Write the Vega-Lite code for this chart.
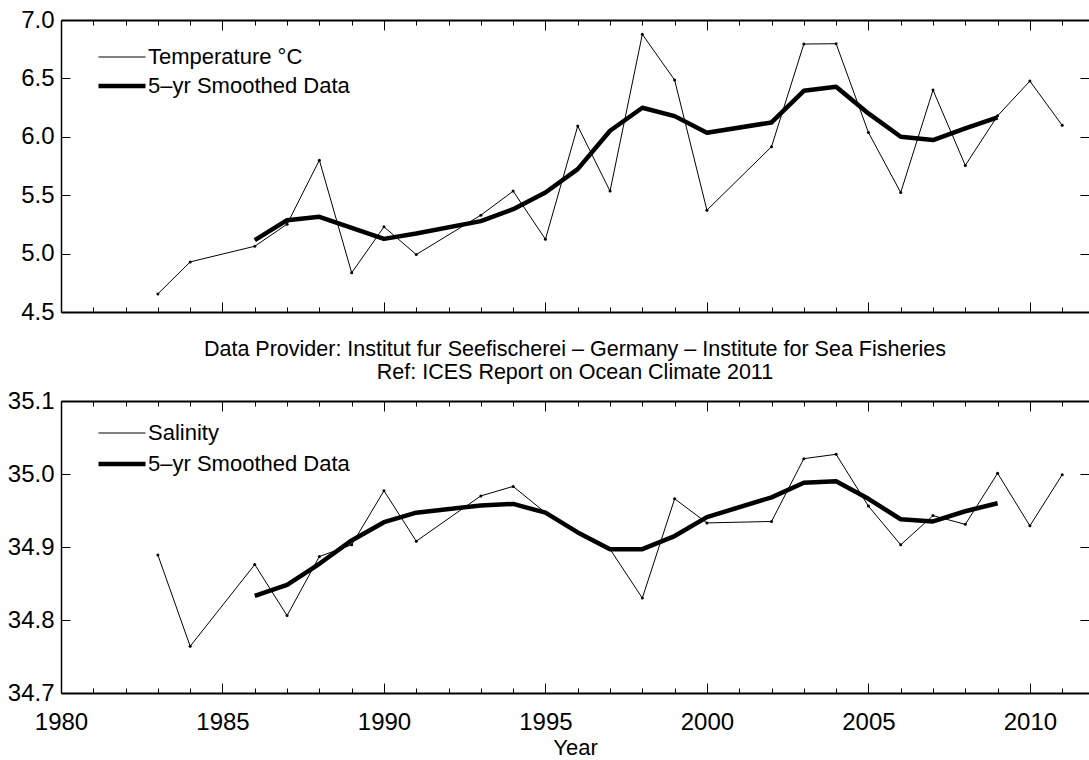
{
  "$schema": "https://vega.github.io/schema/vega-lite/v6.json",
  "padding": {"left": 7, "top": 8, "right": 0, "bottom": 0},
  "background": "white",
  "spacing": 14,
  "config": {
    "font": "Liberation Sans",
    "view": {"stroke": null},
    "axis": {
      "grid": false,
      "domainColor": "black",
      "tickColor": "black",
      "tickWidth": 1,
      "labelColor": "black",
      "labelFont": "Liberation Sans",
      "labelFontSize": 24,
      "labelFlush": false,
      "labelOverlap": false,
      "titleFont": "Liberation Sans",
      "titleFontWeight": "normal",
      "titleColor": "black"
    }
  },
  "datasets": {
    "temp": [
      {"year": 1983, "value": 4.655, "series": "Temperature °C"},
      {"year": 1984, "value": 4.929, "series": "Temperature °C"},
      {"year": 1986, "value": 5.063, "series": "Temperature °C"},
      {"year": 1987, "value": 5.252, "series": "Temperature °C"},
      {"year": 1988, "value": 5.800, "series": "Temperature °C"},
      {"year": 1989, "value": 4.835, "series": "Temperature °C"},
      {"year": 1990, "value": 5.229, "series": "Temperature °C"},
      {"year": 1991, "value": 4.992, "series": "Temperature °C"},
      {"year": 1993, "value": 5.329, "series": "Temperature °C"},
      {"year": 1994, "value": 5.535, "series": "Temperature °C"},
      {"year": 1995, "value": 5.123, "series": "Temperature °C"},
      {"year": 1996, "value": 6.092, "series": "Temperature °C"},
      {"year": 1997, "value": 5.535, "series": "Temperature °C"},
      {"year": 1998, "value": 6.877, "series": "Temperature °C"},
      {"year": 1999, "value": 6.486, "series": "Temperature °C"},
      {"year": 2000, "value": 5.372, "series": "Temperature °C"},
      {"year": 2002, "value": 5.915, "series": "Temperature °C"},
      {"year": 2003, "value": 6.794, "series": "Temperature °C"},
      {"year": 2004, "value": 6.797, "series": "Temperature °C"},
      {"year": 2005, "value": 6.037, "series": "Temperature °C"},
      {"year": 2006, "value": 5.523, "series": "Temperature °C"},
      {"year": 2007, "value": 6.400, "series": "Temperature °C"},
      {"year": 2008, "value": 5.755, "series": "Temperature °C"},
      {"year": 2009, "value": 6.180, "series": "Temperature °C"},
      {"year": 2010, "value": 6.477, "series": "Temperature °C"},
      {"year": 2011, "value": 6.098, "series": "Temperature °C"},
      {"year": 1986, "value": 5.115, "series": "5–yr Smoothed Data"},
      {"year": 1987, "value": 5.286, "series": "5–yr Smoothed Data"},
      {"year": 1988, "value": 5.315, "series": "5–yr Smoothed Data"},
      {"year": 1989, "value": 5.220, "series": "5–yr Smoothed Data"},
      {"year": 1990, "value": 5.126, "series": "5–yr Smoothed Data"},
      {"year": 1991, "value": 5.172, "series": "5–yr Smoothed Data"},
      {"year": 1993, "value": 5.278, "series": "5–yr Smoothed Data"},
      {"year": 1994, "value": 5.380, "series": "5–yr Smoothed Data"},
      {"year": 1995, "value": 5.523, "series": "5–yr Smoothed Data"},
      {"year": 1996, "value": 5.723, "series": "5–yr Smoothed Data"},
      {"year": 1997, "value": 6.052, "series": "5–yr Smoothed Data"},
      {"year": 1998, "value": 6.249, "series": "5–yr Smoothed Data"},
      {"year": 1999, "value": 6.177, "series": "5–yr Smoothed Data"},
      {"year": 2000, "value": 6.034, "series": "5–yr Smoothed Data"},
      {"year": 2002, "value": 6.123, "series": "5–yr Smoothed Data"},
      {"year": 2003, "value": 6.394, "series": "5–yr Smoothed Data"},
      {"year": 2004, "value": 6.429, "series": "5–yr Smoothed Data"},
      {"year": 2005, "value": 6.200, "series": "5–yr Smoothed Data"},
      {"year": 2006, "value": 6.000, "series": "5–yr Smoothed Data"},
      {"year": 2007, "value": 5.972, "series": "5–yr Smoothed Data"},
      {"year": 2008, "value": 6.072, "series": "5–yr Smoothed Data"},
      {"year": 2009, "value": 6.166, "series": "5–yr Smoothed Data"}
    ],
    "sal": [
      {"year": 1983, "value": 34.889, "series": "Salinity"},
      {"year": 1984, "value": 34.764, "series": "Salinity"},
      {"year": 1986, "value": 34.876, "series": "Salinity"},
      {"year": 1987, "value": 34.806, "series": "Salinity"},
      {"year": 1988, "value": 34.887, "series": "Salinity"},
      {"year": 1989, "value": 34.903, "series": "Salinity"},
      {"year": 1990, "value": 34.977, "series": "Salinity"},
      {"year": 1991, "value": 34.908, "series": "Salinity"},
      {"year": 1993, "value": 34.970, "series": "Salinity"},
      {"year": 1994, "value": 34.983, "series": "Salinity"},
      {"year": 1995, "value": 34.947, "series": "Salinity"},
      {"year": 1996, "value": 34.920, "series": "Salinity"},
      {"year": 1997, "value": 34.897, "series": "Salinity"},
      {"year": 1998, "value": 34.830, "series": "Salinity"},
      {"year": 1999, "value": 34.966, "series": "Salinity"},
      {"year": 2000, "value": 34.933, "series": "Salinity"},
      {"year": 2002, "value": 34.935, "series": "Salinity"},
      {"year": 2003, "value": 35.021, "series": "Salinity"},
      {"year": 2004, "value": 35.027, "series": "Salinity"},
      {"year": 2005, "value": 34.956, "series": "Salinity"},
      {"year": 2006, "value": 34.903, "series": "Salinity"},
      {"year": 2007, "value": 34.943, "series": "Salinity"},
      {"year": 2008, "value": 34.931, "series": "Salinity"},
      {"year": 2009, "value": 35.001, "series": "Salinity"},
      {"year": 2010, "value": 34.929, "series": "Salinity"},
      {"year": 2011, "value": 34.999, "series": "Salinity"},
      {"year": 1986, "value": 34.833, "series": "5–yr Smoothed Data"},
      {"year": 1987, "value": 34.848, "series": "5–yr Smoothed Data"},
      {"year": 1988, "value": 34.877, "series": "5–yr Smoothed Data"},
      {"year": 1989, "value": 34.909, "series": "5–yr Smoothed Data"},
      {"year": 1990, "value": 34.934, "series": "5–yr Smoothed Data"},
      {"year": 1991, "value": 34.947, "series": "5–yr Smoothed Data"},
      {"year": 1993, "value": 34.957, "series": "5–yr Smoothed Data"},
      {"year": 1994, "value": 34.959, "series": "5–yr Smoothed Data"},
      {"year": 1995, "value": 34.947, "series": "5–yr Smoothed Data"},
      {"year": 1996, "value": 34.920, "series": "5–yr Smoothed Data"},
      {"year": 1997, "value": 34.897, "series": "5–yr Smoothed Data"},
      {"year": 1998, "value": 34.897, "series": "5–yr Smoothed Data"},
      {"year": 1999, "value": 34.915, "series": "5–yr Smoothed Data"},
      {"year": 2000, "value": 34.941, "series": "5–yr Smoothed Data"},
      {"year": 2002, "value": 34.968, "series": "5–yr Smoothed Data"},
      {"year": 2003, "value": 34.988, "series": "5–yr Smoothed Data"},
      {"year": 2004, "value": 34.990, "series": "5–yr Smoothed Data"},
      {"year": 2005, "value": 34.966, "series": "5–yr Smoothed Data"},
      {"year": 2006, "value": 34.938, "series": "5–yr Smoothed Data"},
      {"year": 2007, "value": 34.935, "series": "5–yr Smoothed Data"},
      {"year": 2008, "value": 34.949, "series": "5–yr Smoothed Data"},
      {"year": 2009, "value": 34.960, "series": "5–yr Smoothed Data"}
    ]
  },
  "vconcat": [
    {
      "width": 1028,
      "height": 292,
      "data": {"name": "temp"},
      "layer": [
        {
          "transform": [{"filter": "datum.series === 'Temperature °C'"}],
          "mark": {"type": "line", "color": "black", "point": {"filled": true, "size": 9, "color": "black"}},
          "encoding": {
            "x": {"field": "year", "type": "quantitative", "scale": {"domain": [1980, 2011.83], "nice": false, "zero": false},
              "axis": {"orient": "bottom", "title": null, "labels": false, "values": [1980,1981,1982,1983,1984,1985,1986,1987,1988,1989,1990,1991,1992,1993,1994,1995,1996,1997,1998,1999,2000,2001,2002,2003,2004,2005,2006,2007,2008,2009,2010,2011],
                "tickSize": {"condition": {"test": "datum.value % 5 === 0", "value": -10}, "value": -5}, "domainWidth": 2}},
            "y": {"field": "value", "type": "quantitative", "scale": {"domain": [4.5, 7.0], "nice": false, "zero": false},
              "axis": {"orient": "left", "title": null, "values": [4.5, 5.0, 5.5, 6.0, 6.5, 7.0], "format": ".1f", "tickSize": -9, "labelPadding": 16, "domainWidth": 1.5}},
            "strokeWidth": {"field": "series", "type": "nominal", "scale": {"domain": ["Temperature °C", "5–yr Smoothed Data"], "range": [1, 4.5]},
              "legend": {"orient": "none", "legendX": 35, "legendY": 22.5, "title": null, "symbolType": "stroke", "symbolStrokeColor": "black", "symbolSize": 2209, "labelFontSize": 22, "labelFont": "Liberation Sans", "labelColor": "black", "labelOffset": 0, "clipHeight": 29, "rowPadding": 0, "padding": 0, "labelLimit": 500,
                "encode": {"symbols": {"update": {"stroke": {"value": "black"}, "opacity": {"value": 1}, "strokeOpacity": {"value": 1}}}}}}
          }
        },
        {
          "transform": [{"filter": "datum.series === '5–yr Smoothed Data'"}],
          "mark": {"type": "line", "color": "black", "strokeJoin": "round"},
          "encoding": {
            "x": {"field": "year", "type": "quantitative", "scale": {"domain": [1980, 2011.83], "nice": false, "zero": false},
              "axis": {"orient": "top", "title": null, "labels": false, "values": [1980,1981,1982,1983,1984,1985,1986,1987,1988,1989,1990,1991,1992,1993,1994,1995,1996,1997,1998,1999,2000,2001,2002,2003,2004,2005,2006,2007,2008,2009,2010,2011],
                "tickSize": {"condition": {"test": "datum.value % 5 === 0", "value": -10}, "value": -5}, "domainWidth": 2}},
            "y": {"field": "value", "type": "quantitative", "scale": {"domain": [4.5, 7.0], "nice": false, "zero": false},
              "axis": {"orient": "right", "title": null, "labels": false, "domain": false, "values": [4.5, 5.0, 5.5, 6.0, 6.5, 7.0], "tickSize": -9}},
            "strokeWidth": {"field": "series", "type": "nominal", "scale": {"domain": ["Temperature °C", "5–yr Smoothed Data"], "range": [1, 4.5]}}
          }
        }
      ],
      "resolve": {"axis": {"x": "independent", "y": "independent"}}
    },
    {
      "width": 1028,
      "height": 292,
      "data": {"name": "sal"},
      "title": {"text": ["Data Provider: Institut fur Seefischerei – Germany – Institute for Sea Fisheries", "Ref: ICES Report on Ocean Climate 2011"],
        "fontSize": 21.5, "font": "Liberation Sans", "fontWeight": "normal", "color": "black", "anchor": "middle", "frame": "group", "offset": -11, "lineHeight": 23, "baseline": "alphabetic"},
      "layer": [
        {
          "transform": [{"filter": "datum.series === 'Salinity'"}],
          "mark": {"type": "line", "color": "black", "point": {"filled": true, "size": 9, "color": "black"}},
          "encoding": {
            "x": {"field": "year", "type": "quantitative", "scale": {"domain": [1980, 2011.83], "nice": false, "zero": false},
              "axis": {"orient": "bottom", "title": "Year", "titleFontSize": 22, "titleY": 61, "titleBaseline": "alphabetic", "values": [1980,1981,1982,1983,1984,1985,1986,1987,1988,1989,1990,1991,1992,1993,1994,1995,1996,1997,1998,1999,2000,2001,2002,2003,2004,2005,2006,2007,2008,2009,2010,2011],
                "format": "d", "labelExpr": "datum.value % 5 === 0 ? datum.label : ''", "labelBaseline": "alphabetic", "labelPadding": 46,
                "tickSize": {"condition": {"test": "datum.value % 5 === 0", "value": -10}, "value": -5}, "domainWidth": 2}},
            "y": {"field": "value", "type": "quantitative", "scale": {"domain": [34.7, 35.1], "nice": false, "zero": false},
              "axis": {"orient": "left", "title": null, "values": [34.7, 34.8, 34.9, 35.0, 35.1], "format": ".1f", "tickSize": -9, "labelPadding": 16, "domainWidth": 1.5}},
            "strokeWidth": {"field": "series", "type": "nominal", "scale": {"domain": ["Salinity", "5–yr Smoothed Data"], "range": [1, 4.5]},
              "legend": {"orient": "none", "legendX": 35, "legendY": 16.75, "title": null, "symbolType": "stroke", "symbolStrokeColor": "black", "symbolSize": 2209, "labelFontSize": 22, "labelFont": "Liberation Sans", "labelColor": "black", "labelOffset": 0, "clipHeight": 30.5, "rowPadding": 0, "padding": 0, "labelLimit": 500,
                "encode": {"symbols": {"update": {"stroke": {"value": "black"}, "opacity": {"value": 1}, "strokeOpacity": {"value": 1}}}}}}
          }
        },
        {
          "transform": [{"filter": "datum.series === '5–yr Smoothed Data'"}],
          "mark": {"type": "line", "color": "black", "strokeJoin": "round"},
          "encoding": {
            "x": {"field": "year", "type": "quantitative", "scale": {"domain": [1980, 2011.83], "nice": false, "zero": false},
              "axis": {"orient": "top", "title": null, "labels": false, "values": [1980,1981,1982,1983,1984,1985,1986,1987,1988,1989,1990,1991,1992,1993,1994,1995,1996,1997,1998,1999,2000,2001,2002,2003,2004,2005,2006,2007,2008,2009,2010,2011],
                "tickSize": {"condition": {"test": "datum.value % 5 === 0", "value": -10}, "value": -5}, "domainWidth": 2}},
            "y": {"field": "value", "type": "quantitative", "scale": {"domain": [34.7, 35.1], "nice": false, "zero": false},
              "axis": {"orient": "right", "title": null, "labels": false, "domain": false, "values": [34.7, 34.8, 34.9, 35.0, 35.1], "tickSize": -9}},
            "strokeWidth": {"field": "series", "type": "nominal", "scale": {"domain": ["Salinity", "5–yr Smoothed Data"], "range": [1, 4.5]}}
          }
        }
      ],
      "resolve": {"axis": {"x": "independent", "y": "independent"}}
    }
  ],
  "resolve": {"scale": {"strokeWidth": "independent"}, "legend": {"strokeWidth": "independent"}}
}
